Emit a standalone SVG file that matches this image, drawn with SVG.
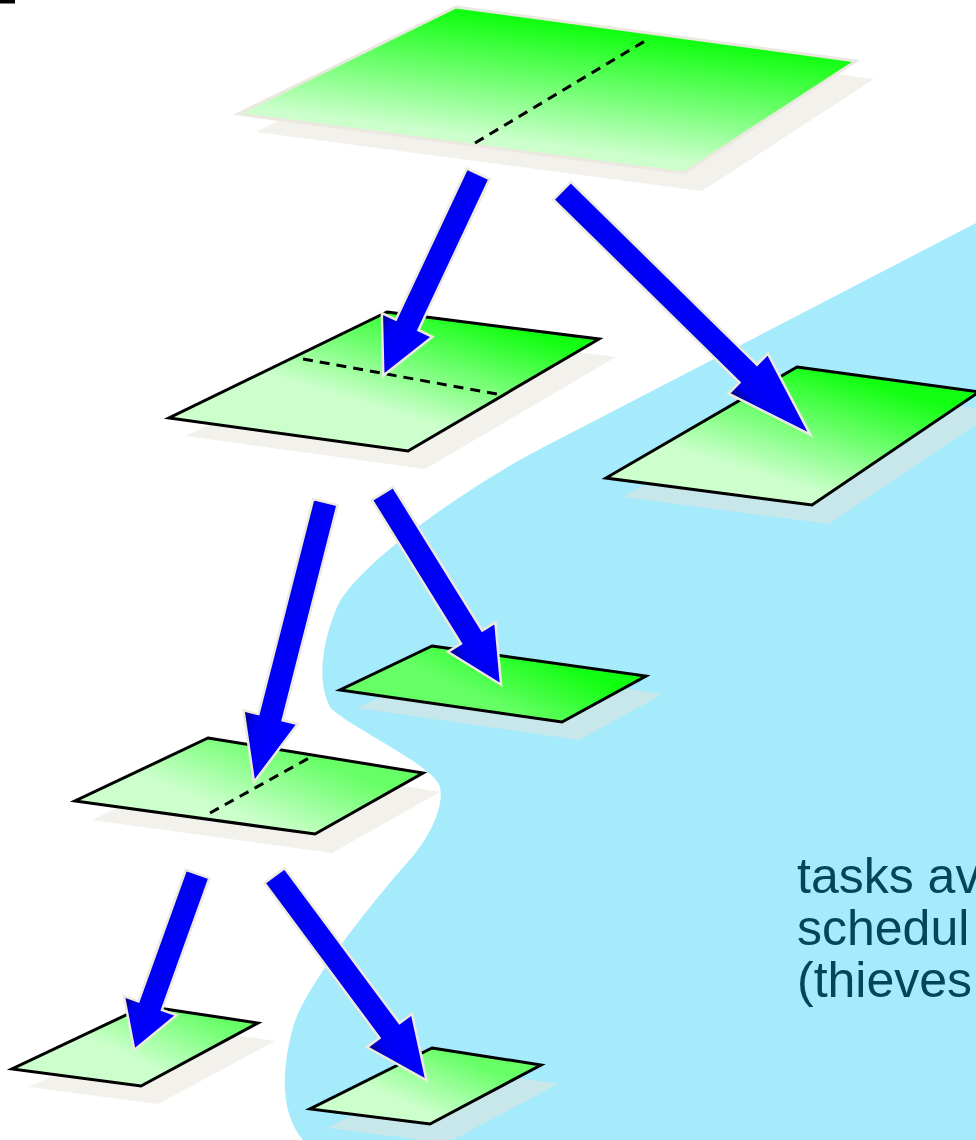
<svg xmlns="http://www.w3.org/2000/svg" width="976" height="1140" viewBox="0 0 976 1140">
  <style>
    .shadow { fill: #e7e4da; fill-opacity: 0.5; stroke: none; }
    .tile { stroke: #000000; stroke-width: 3; stroke-linejoin: miter; }
    .tile-top { stroke: #ebe8df; stroke-width: 3; stroke-linejoin: miter; }
    .dash { fill: none; stroke: #000000; stroke-width: 3; stroke-dasharray: 10 7; }
    .arrow { fill: url(#ag); stroke: #ece9df; stroke-width: 2.5; stroke-linejoin: miter; stroke-miterlimit: 10; }
    .label { font-family: "Liberation Sans", Arial, sans-serif; font-size: 50px; fill: #00475a; }
  </style>
  <defs>
    <linearGradient id="ag" x1="0.74" y1="1" x2="0.84" y2="0.35">
      <stop offset="0" stop-color="#000070"/>
      <stop offset="0.35" stop-color="#0000f0"/>
      <stop offset="1" stop-color="#0000ff"/>
    </linearGradient>
    <linearGradient id="g1" gradientUnits="userSpaceOnUse" x1="600" y1="30" x2="585" y2="150">
      <stop offset="0" stop-color="#11ff11"/>
      <stop offset="1" stop-color="#ccffcc"/>
    </linearGradient>
    <linearGradient id="g2" gradientUnits="userSpaceOnUse" x1="520" y1="330" x2="487" y2="440">
      <stop offset="0" stop-color="#11ff11"/>
      <stop offset="1" stop-color="#ccffcc"/>
    </linearGradient>
    <linearGradient id="g3" gradientUnits="userSpaceOnUse" x1="880" y1="385" x2="845" y2="500">
      <stop offset="0" stop-color="#11ff11"/>
      <stop offset="1" stop-color="#ccffcc"/>
    </linearGradient>
    <linearGradient id="g4" gradientUnits="userSpaceOnUse" x1="560" y1="660" x2="530" y2="722">
      <stop offset="0" stop-color="#11ff11"/>
      <stop offset="1" stop-color="#66ff66"/>
    </linearGradient>
    <linearGradient id="g5" gradientUnits="userSpaceOnUse" x1="320" y1="760" x2="290" y2="835">
      <stop offset="0" stop-color="#66ff66"/>
      <stop offset="1" stop-color="#ccffcc"/>
    </linearGradient>
    <linearGradient id="g6" gradientUnits="userSpaceOnUse" x1="220" y1="1020" x2="190" y2="1085">
      <stop offset="0" stop-color="#66ff66"/>
      <stop offset="1" stop-color="#ccffcc"/>
    </linearGradient>
    <linearGradient id="g7" gradientUnits="userSpaceOnUse" x1="470" y1="1060" x2="445" y2="1120">
      <stop offset="0" stop-color="#66ff66"/>
      <stop offset="1" stop-color="#ccffcc"/>
    </linearGradient>
  </defs>

  <rect width="976" height="1140" fill="#ffffff"/>
  <rect x="0" y="0" width="15" height="3.5" fill="#000000"/>

  <!-- stealable region -->
  <path id="region" fill="#a6ebfc" d="M976,223 L540,449 C460,491 355,567 337,607 C323,640 316,680 330,707 C345,725 434,765 440,787 C444,805 432,835 407,863 C380,893 305,985 293,1027 C283,1065 278,1110 303,1140 L976,1140 Z"/>

  <g id="node1">
    <polygon class="shadow" transform="translate(18,18)" points="456,7 856,61 684,173 238,114"/>
    <polygon class="tile-top" fill="url(#g1)" points="456,7 856,61 684,173 238,114"/>
    <line class="dash" x1="475" y1="143" x2="645" y2="41"/>
  </g>
  <g id="node2">
    <polygon class="shadow" transform="translate(17,18)" points="387,312 599,339 408,451 169,418"/>
    <polygon class="tile" fill="url(#g2)" points="387,312 599,339 408,451 169,418"/>
    <line class="dash" x1="303" y1="359" x2="497" y2="394"/>
  </g>
  <g id="node3">
    <polygon class="shadow" transform="translate(17,19)" points="797,367 979,392 812,505 606,478"/>
    <polygon class="tile" fill="url(#g3)" points="797,367 979,392 812,505 606,478"/>
  </g>
  <g id="node4">
    <polygon class="shadow" transform="translate(17,18)" points="432,646 646,676 562,722 340,690"/>
    <polygon class="tile" fill="url(#g4)" points="432,646 646,676 562,722 340,690"/>
  </g>
  <g id="node5">
    <polygon class="shadow" transform="translate(17,19)" points="208,738 423,773 315,834 75,801"/>
    <polygon class="tile" fill="url(#g5)" points="208,738 423,773 315,834 75,801"/>
    <line class="dash" x1="210" y1="813" x2="309" y2="758"/>
  </g>
  <g id="node6">
    <polygon class="shadow" transform="translate(17,18)" points="145,1006 258,1023 141,1086 12,1069"/>
    <polygon class="tile" fill="url(#g6)" points="145,1006 258,1023 141,1086 12,1069"/>
  </g>
  <g id="node7">
    <polygon class="shadow" transform="translate(17,19)" points="432,1048 541,1065 430,1124 310,1109"/>
    <polygon class="tile" fill="url(#g7)" points="432,1048 541,1065 430,1124 310,1109"/>
  </g>

  <g id="connectors">
    <path class="arrow" transform="translate(383.3,375.6) rotate(115.2)" d="M0,0 L-56,-28 L-56,-12.5 L-223,-12.5 L-223,12.5 L-56,12.5 L-56,28 Z"/>
    <path class="arrow" transform="translate(810.3,434.6) rotate(44.5)" d="M0,0 L-87,-28 L-87,-12.5 L-348,-12.5 L-348,12.5 L-87,12.5 L-87,28 Z"/>
    <path class="arrow" transform="translate(254,782.1) rotate(104.3)" d="M0,0 L-67,-28 L-67,-12.5 L-289,-12.5 L-289,12.5 L-67,12.5 L-67,28 Z"/>
    <path class="arrow" transform="translate(501.1,684.7) rotate(58.2)" d="M0,0 L-56,-28 L-56,-12.5 L-225,-12.5 L-225,12.5 L-56,12.5 L-56,28 Z"/>
    <path class="arrow" transform="translate(134.3,1049.9) rotate(109.8)" d="M0,0 L-47,-28 L-47,-12.5 L-187,-12.5 L-187,12.5 L-47,12.5 L-47,28 Z"/>
    <path class="arrow" transform="translate(426.5,1080.3) rotate(53.4)" d="M0,0 L-62,-28 L-62,-12.5 L-255,-12.5 L-255,12.5 L-62,12.5 L-62,28 Z"/>
  </g>

  <g id="caption">
    <text class="label" x="797" y="893">tasks av</text>
    <text class="label" x="797" y="945">schedul</text>
    <text class="label" x="797" y="997">(thieves</text>
  </g>
</svg>
